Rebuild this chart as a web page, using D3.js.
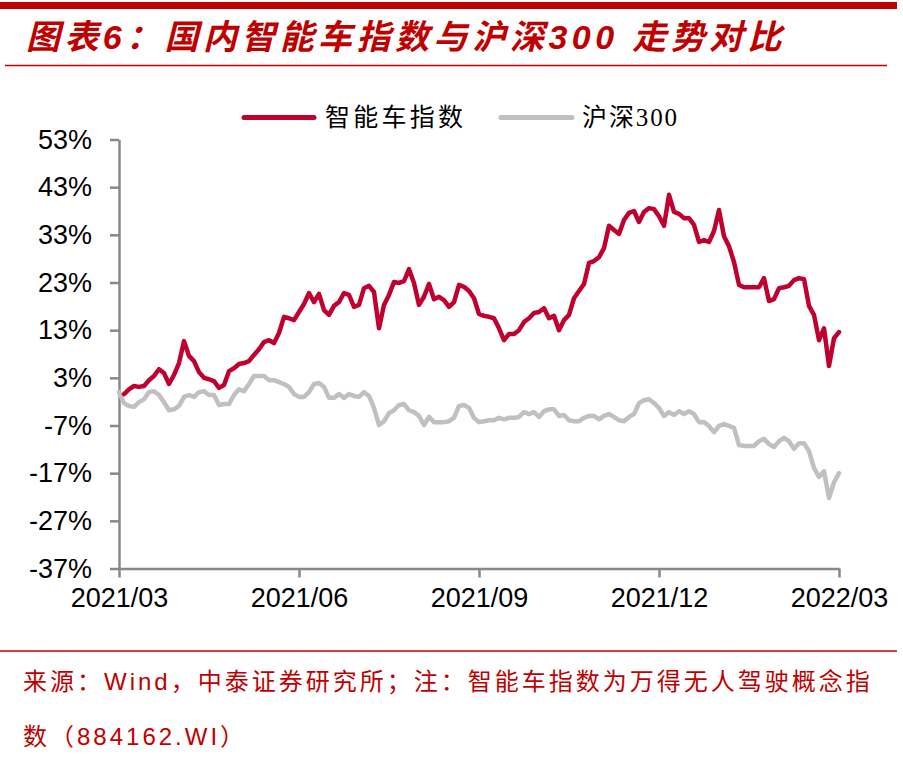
<!DOCTYPE html>
<html>
<head>
<meta charset="utf-8">
<script src="https://cdn.jsdelivr.net/npm/d3@7"></script>
<style>
  body { margin: 0; background: #fff; }
</style>
</head>
<body>
<div id="canvas"></div>
<script>
"use strict"

// series names for the legend
let seriesNames = ["智能车指数", "沪深300"];

// x axis tick labels (quarterly)
let xTickLabels = ["2021/03", "2021/06", "2021/09", "2021/12", "2022/03"];

// y axis tick values, in %
let yTickValues = [53, 43, 33, 23, 13, 3, -7, -17, -27, -37];

// cumulative change, %, evenly spaced in time
let smartCarValues = [null,
    -0.4, 0.6, 1.3, 1.1, 1.3, 2.5, 3.4, 4.8, 4.0, 1.7,
    3.6, 6.1, 10.7, 7.6, 6.5, 4.2, 3.0, 2.7, 2.3, 0.9,
    1.5, 4.4, 5.0, 5.9, 6.1, 6.5, 7.8, 9.0, 10.5, 10.9,
    10.3, 12.4, 15.8, 15.5, 15.1, 16.8, 18.5, 20.8, 18.9, 20.6,
    17.2, 16.2, 18.1, 18.9, 20.8, 20.4, 17.9, 18.3, 21.8, 22.3,
    21.0, 13.4, 18.3, 20.4, 23.1, 22.9, 23.3, 25.8, 22.9, 18.3,
    20.0, 22.7, 19.5, 20.0, 19.3, 17.9, 18.9, 22.5, 22.1, 21.2,
    19.7, 16.4, 16.0, 15.8, 15.5, 13.4, 10.9, 12.2, 12.2, 13.0,
    14.7, 15.5, 16.6, 16.8, 17.6, 15.5, 16.0, 13.0, 15.1, 16.2,
    19.7, 21.2, 22.7, 27.1, 27.5, 28.3, 30.2, 34.9, 34.0, 33.2,
    36.1, 37.6, 38.0, 35.7, 37.8, 38.6, 38.4, 36.9, 34.9, 41.4,
    37.8, 37.4, 36.5, 36.5, 35.1, 31.5, 31.9, 31.5, 33.8, 38.2,
    32.7, 30.6, 27.3, 22.5, 22.0, 22.0, 22.0, 22.0, 23.9, 19.1,
    19.5, 21.8, 22.0, 22.3, 23.5, 23.9, 23.7, 18.1, 16.2, 10.9,
    13.4, 5.5, 11.3, 12.6];

let hs300Values = [0.0,
    -2.3, -2.9, -3.1, -2.1, -1.5, 0.0, 0.2, -0.6, -2.1, -3.8,
    -3.6, -2.9, -1.0, -0.6, -1.0, 0.0, 0.2, -0.6, -0.6, -2.7,
    -2.5, -2.5, -0.6, 0.6, 0.2, 1.7, 3.4, 3.4, 3.4, 2.5,
    2.5, 2.1, 1.7, 1.1, -0.4, -1.0, -1.0, 0.0, 1.7, 1.9,
    1.1, -1.2, -1.2, -0.4, -1.2, -0.4, -0.8, -1.0, 0.0, -0.8,
    -3.3, -6.9, -6.1, -4.4, -3.8, -2.7, -2.5, -3.8, -4.2, -5.0,
    -6.9, -5.2, -6.3, -6.3, -6.3, -6.1, -5.4, -2.9, -2.7, -3.3,
    -5.4, -6.3, -6.1, -5.9, -5.9, -5.4, -5.7, -5.4, -5.4, -5.2,
    -4.2, -4.6, -4.2, -5.2, -4.0, -3.6, -3.6, -5.0, -4.8, -5.9,
    -6.1, -6.1, -5.4, -5.0, -5.0, -5.7, -5.0, -4.6, -5.2, -5.9,
    -6.1, -5.2, -4.6, -2.3, -1.7, -1.5, -2.3, -3.3, -5.0, -4.2,
    -4.8, -4.0, -4.6, -4.0, -4.6, -6.3, -6.3, -7.1, -8.4, -7.1,
    -6.7, -7.1, -7.5, -11.1, -11.3, -11.3, -11.3, -10.3, -9.8, -10.9,
    -11.5, -10.3, -9.6, -10.3, -11.9, -10.7, -10.7, -12.4, -15.9, -17.8,
    -16.6, -22.2, -18.9, -17.0];

let seriesColors = ["#C0002E", "#C0C0C0"];
let titleRed = "#C00000";

let drawing = d3.select("#canvas")
    .append("svg")
    .attr("width", 903)
    .attr("height", 760);

/* header: thick bar, title, thin rule */
drawing.append("rect")
    .attr("x", 0)
    .attr("y", 2)
    .attr("width", 897)
    .attr("height", 7)
    .attr("fill", titleRed);

drawing.append("text")
    .attr("x", 26)
    .attr("y", 49)
    .attr("letter-spacing", 4.4)
    .attr("font-family", "'Liberation Sans', 'Noto Sans CJK SC', sans-serif")
    .attr("font-size", 34)
    .attr("font-weight", "bold")
    .attr("font-style", "italic")
    .attr("fill", titleRed)
    .text("图表6：国内智能车指数与沪深300 走势对比");

drawing.append("line")
    .attr("x1", 5).attr("x2", 887)
    .attr("y1", 65.5).attr("y2", 65.5)
    .attr("stroke", titleRed)
    .attr("stroke-width", 1.5);

/* plot area */
let plotLeft = 119, plotRight = 839, plotTop = 139.5, plotBottom = 568.5;

let x = d3.scaleLinear()
    .domain([0, hs300Values.length - 1])
    .range([plotLeft, plotRight]);

let xTicks = d3.scalePoint()
    .domain(xTickLabels)
    .range([plotLeft, plotRight]);

let y = d3.scaleLinear()
    .domain([-37, 53])
    .range([plotBottom, plotTop]);

let axisColor = "#888888";

let yAxis = drawing.append("g")
    .attr("transform", "translate(" + plotLeft + ",0)")
    .call(d3.axisLeft(y)
        .tickValues(yTickValues)
        .tickFormat(d => d + "%")
        .tickSize(9)
        .tickSizeOuter(0)
        .tickPadding(18));

yAxis.selectAll("text")
    .attr("font-family", "'Liberation Sans', Arial, sans-serif")
    .attr("font-size", 27)
    .attr("fill", "#000");

let xAxis = drawing.append("g")
    .attr("transform", "translate(0," + plotBottom + ")")
    .call(d3.axisBottom(xTicks)
        .tickSize(9)
        .tickSizeOuter(0));

xAxis.selectAll("text")
    .attr("y", 38)
    .attr("dy", 0)
    .attr("font-family", "'Liberation Sans', Arial, sans-serif")
    .attr("font-size", 27)
    .attr("fill", "#000");

drawing.selectAll(".domain, .tick line")
    .attr("stroke", axisColor)
    .attr("stroke-width", 2.5);

/* the two lines */
let line = d3.line()
    .defined(d => d !== null)
    .x((d, i) => x(i))
    .y(d => y(d));

let allSeries = [hs300Values, smartCarValues];
let allColors = [seriesColors[1], seriesColors[0]];

drawing.selectAll(".series")
    .data(allSeries)
    .enter()
    .append("path")
    .attr("class", "series")
    .attr("d", d => line(d))
    .attr("fill", "none")
    .attr("stroke", (d, i) => allColors[i])
    .attr("stroke-width", 4.5)
    .attr("stroke-linejoin", "round")
    .attr("stroke-linecap", "round");

/* legend */
let legendItems = [
    { name: seriesNames[0], color: seriesColors[0], x1: 244, x2: 314, tx: 325, len: 138 },
    { name: seriesNames[1], color: seriesColors[1], x1: 501, x2: 572, tx: 582, len: 95 }
];

legendItems.forEach(function (item) {
    drawing.append("line")
        .attr("x1", item.x1).attr("x2", item.x2)
        .attr("y1", 117.5).attr("y2", 117.5)
        .attr("stroke", item.color)
        .attr("stroke-width", 5)
        .attr("stroke-linecap", "round");

    drawing.append("text")
        .attr("x", item.tx)
        .attr("y", 126)
        .attr("textLength", item.len)
        .attr("lengthAdjust", "spacing")
        .attr("font-family", "'Liberation Serif', 'Noto Sans CJK SC', serif")
        .attr("font-size", 25)
        .attr("fill", "#000")
        .text(item.name);
});

/* footer */
drawing.append("line")
    .attr("x1", 0).attr("x2", 897)
    .attr("y1", 651).attr("y2", 651)
    .attr("stroke", titleRed)
    .attr("stroke-width", 1.5);

let footerLines = [
    { text: "来源：Wind，中泰证券研究所；注：智能车指数为万得无人驾驶概念指", y: 690 },
    { text: "数（884162.WI）", y: 745 }
];

footerLines.forEach(function (f) {
    drawing.append("text")
        .attr("x", 23)
        .attr("y", f.y)
        .attr("letter-spacing", 3)
        .attr("font-family", "'Liberation Sans', 'Noto Sans CJK SC', sans-serif")
        .attr("font-size", 24)
        .attr("fill", titleRed)
        .text(f.text);
});
</script>
</body>
</html>
